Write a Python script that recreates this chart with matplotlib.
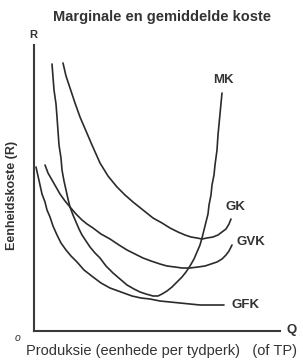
import matplotlib
matplotlib.use('Agg')
import matplotlib.pyplot as plt

# Curve points (Q, R)
mk_q = [18, 19, 20, 22, 23, 24, 25, 27, 28, 30, 32, 34, 36, 39, 42, 45, 48, 52, 56, 61, 66, 72, 79, 86, 93, 100, 106, 112, 119, 124, 128, 133, 138, 143, 148, 152, 156, 160, 163, 166, 168, 170, 172, 174, 175, 177, 178, 180, 181, 183, 184, 186, 188]
mk_r = [267, 254, 241, 227, 214, 200, 186, 173, 161, 150, 141, 132, 124, 116, 109, 102, 96, 90, 84, 78, 73, 65, 58, 52, 46, 42, 39, 37, 35, 35, 37, 40, 44, 49, 54, 59, 65, 72, 79, 86, 93, 101, 109, 117, 126, 136, 146, 156, 166, 181, 196, 217, 238]

gk_q = [29, 32, 36, 41, 46, 52, 58, 62, 66, 74, 83, 91, 99, 109, 119, 128, 136, 144, 151, 157, 163, 168, 173, 179, 184, 188, 192, 195, 197]
gk_r = [268, 255, 243, 228, 214, 200, 186, 177, 168, 155, 144, 136, 129, 121, 113, 108, 103, 99, 96, 94, 93, 92, 93, 94, 96, 99, 102, 107, 112]

gvk_q = [11, 14, 18, 22, 26, 31, 36, 42, 48, 53, 59, 67, 76, 85, 93, 101, 109, 117, 126, 133, 141, 148, 156, 164, 171, 177, 183, 188, 192, 195, 198]
gvk_r = [166, 158, 151, 144, 137, 130, 124, 117, 111, 107, 103, 97, 92, 86, 81, 77, 73, 70, 67, 65, 64, 63, 63, 64, 65, 67, 69, 72, 76, 80, 86]

gfk_q = [2, 4, 6, 8, 11, 13, 16, 19, 23, 27, 32, 37, 43, 50, 59, 67, 76, 87, 98, 107, 116, 126, 136, 146, 156, 166, 176, 183, 190]
gfk_r = [164, 155, 146, 137, 129, 121, 114, 105, 96, 88, 81, 75, 69, 61, 54, 48, 43, 39, 35, 33, 32, 30, 29, 28, 27, 26, 26, 26, 26]

curve_labels = ['MK', 'GK', 'GVK', 'GFK']

txt = '#333333'
lc = '#2b2b2b'
fam = ['Liberation Sans Narrow', 'Liberation Sans', 'DejaVu Sans']
plt.rcParams['font.family'] = fam

fig = plt.figure(figsize=(3.03, 3.63), dpi=100)
W, H = 303, 363
ax = fig.add_axes([34 / W, (H - 331) / H, (280 - 34) / W, (331 - 45) / H])
ax.set_xlim(0, 246)
ax.set_ylim(0, 286)
for s in ['top', 'right']:
    ax.spines[s].set_visible(False)
for s in ['left', 'bottom']:
    ax.spines[s].set_linewidth(1.5)
    ax.spines[s].set_color('#3a3a3a')
ax.set_xticks([])
ax.set_yticks([])

series = [(mk_q, mk_r), (gk_q, gk_r), (gvk_q, gvk_r), (gfk_q, gfk_r)]
for (q, r) in series:
    ax.plot(q, r, color=lc, lw=1.2, solid_capstyle='round', solid_joinstyle='round')

# curve labels near the end of each line
label_pos = {'MK': (189, 251), 'GK': (201, 124), 'GVK': (217, 89), 'GFK': (212, 26)}
for name in curve_labels:
    x, y = label_pos[name]
    ax.text(x, y, name, ha='center', va='center', fontsize=9.5, fontweight='bold',
            color=txt, clip_on=False)

ax.text(-1, 296, 'R', ha='center', va='center', fontsize=8, fontweight='bold',
        color=txt, clip_on=False)
ax.text(258, 1, 'Q', ha='center', va='center', fontsize=9.5, fontweight='bold',
        color=txt, clip_on=False)
ax.text(-16, -7, 'o', ha='center', va='center', fontsize=7.5, fontstyle='italic',
        color=txt, clip_on=False)

fig.text(162 / W, 1 - 17 / H, 'Marginale en gemiddelde koste', ha='center', va='center',
         fontsize=10.5, fontweight='bold', color=txt)
fig.text(162 / W, 1 - 351 / H, 'Produksie (eenhede per tydperk)   (of TP)', ha='center',
         va='center', fontsize=10.5, color=txt)
fig.text(12 / W, 1 - 195 / H, 'Eenheidskoste (R)', ha='center', va='center',
         rotation=90, fontsize=9, fontweight='bold', color=txt)

fig.savefig('out.png', dpi=100)
